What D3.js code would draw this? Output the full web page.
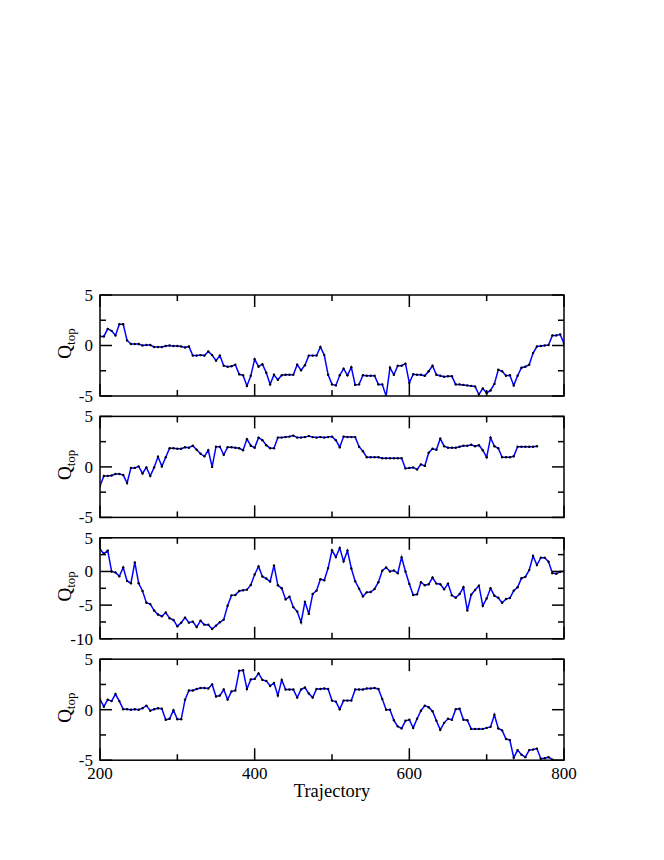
<!DOCTYPE html>
<html><head><meta charset="utf-8">
<script src="https://cdn.jsdelivr.net/npm/d3@7"></script>
<style>body{margin:0;background:#fff}svg{display:block}text{font-family:"Liberation Serif","Times New Roman",serif}</style>
</head><body>
<script>
const trajStart = 200, trajStep = 5;
const q1 = [0.9, 0.9, 1.65, 1.45, 1.0, 2.1, 2.1, 0.5, 0.15, 0.15,
 0.15, 0.0, 0.05, 0.05, -0.15, -0.15, -0.15, -0.05, 0.0, -0.05,
 -0.05, -0.1, -0.2, -0.1, -1.0, -1.0, -0.95, -1.0, -0.6, -0.95,
 -1.5, -1.0, -2.0, -2.1, -2.05, -1.9, -2.85, -2.95, -4.0, -3.0,
 -1.35, -2.1, -1.85, -2.7, -3.85, -2.9, -3.4, -2.95, -2.9, -2.9,
 -2.9, -1.9, -2.45, -1.95, -1.0, -1.0, -1.0, -0.15, -0.95, -2.9,
 -3.85, -3.95, -2.95, -2.3, -2.95, -2.15, -3.9, -3.85, -2.95, -3.0,
 -3.0, -3.0, -3.85, -3.85, -5.0, -2.2, -2.9, -2.0, -2.0, -1.8,
 -3.7, -2.85, -2.9, -2.9, -3.0, -2.55, -2.0, -2.9, -3.0, -3.1,
 -3.05, -3.05, -3.85, -3.85, -3.9, -3.95, -4.0, -4.05, -4.85, -4.25,
 -4.7, -4.45, -3.8, -2.4, -2.55, -3.0, -2.95, -3.95, -3.0, -2.2,
 -2.1, -1.9, -0.75, -0.1, -0.05, 0.0, 0.05, 1.0, 1.0, 1.1,
 0.2];
const q2 = [-1.9, -0.9, -0.9, -0.85, -0.7, -0.7, -0.8, -1.6, -0.1, -0.1,
 0.05, -0.65, -0.05, -0.9, -0.05, 1.0, 0.05, 0.95, 1.85, 1.85,
 1.8, 1.8, 1.95, 1.9, 2.1, 1.7, 1.3, 1.05, 1.65, 0.0,
 2.0, 2.0, 1.2, 1.95, 1.95, 1.9, 1.85, 1.65, 2.75, 2.1,
 1.9, 2.9, 2.65, 2.15, 1.85, 1.85, 2.9, 2.9, 2.95, 3.0,
 3.1, 2.9, 2.9, 2.95, 3.05, 2.95, 2.9, 2.95, 2.9, 2.95,
 3.0, 2.65, 1.95, 3.0, 2.95, 2.95, 2.95, 2.0, 1.55, 0.95,
 0.95, 0.95, 0.95, 0.85, 0.85, 0.85, 0.85, 0.85, 0.85, -0.15,
 -0.1, -0.05, -0.25, 0.25, 0.1, 1.4, 1.8, 1.7, 2.8, 2.05,
 1.9, 1.9, 1.9, 2.0, 2.1, 2.1, 2.2, 2.05, 2.15, 1.65,
 0.95, 2.9, 2.05, 1.85, 0.95, 0.95, 0.95, 1.05, 2.0, 2.0,
 2.0, 2.0, 2.0, 2.05];
const q3 = [3.3, 2.65, 3.1, 0.0, -0.15, -0.7, 0.6, -1.4, -1.75, 1.35,
 -1.75, -2.9, -4.65, -4.85, -5.8, -6.4, -6.65, -6.1, -6.95, -7.2,
 -8.15, -7.6, -6.85, -7.6, -7.45, -8.25, -7.3, -7.9, -7.9, -8.55,
 -8.05, -7.55, -7.15, -5.1, -3.55, -3.5, -2.9, -2.8, -2.7, -2.0,
 -0.45, 0.75, -0.75, -1.05, -1.5, 0.9, -2.05, -2.5, -4.15, -3.75,
 -5.3, -5.95, -7.55, -4.5, -6.3, -3.35, -2.85, -1.15, -1.3, 0.5,
 3.15, 2.15, 3.5, 1.5, 3.1, 0.45, -1.45, -2.55, -3.7, -3.1,
 -3.05, -2.6, -1.6, 0.1, 0.6, 0.0, 0.15, -0.25, 2.1, 0.0,
 -1.85, -3.5, -3.4, -1.6, -2.05, -1.9, -0.9, -1.8, -1.9, -2.65,
 -1.8, -3.55, -3.9, -3.35, -2.35, -5.8, -3.45, -2.75, -2.1, -5.1,
 -4.0, -2.5, -3.6, -3.9, -4.65, -4.1, -3.95, -2.85, -2.35, -1.0,
 -0.8, 0.2, 2.3, 0.95, 2.05, 2.05, 1.45, -0.25, -0.35, -0.05,
 0.05];
const q4 = [1.05, 0.3, 1.0, 0.85, 1.55, 0.85, 0.05, 0.05, 0.0, 0.05,
 0.0, 0.15, 0.4, -0.1, 0.05, 0.15, 0.1, -1.0, -0.9, -0.05,
 -0.95, -0.95, 1.0, 1.9, 1.9, 2.05, 2.15, 2.15, 2.1, 2.5,
 1.3, 1.4, 2.0, 1.0, 1.8, 1.9, 3.85, 3.9, 2.05, 3.0,
 3.05, 3.6, 2.95, 2.85, 2.35, 2.65, 1.4, 2.95, 2.0, 2.0,
 2.0, 1.2, 2.0, 2.2, 1.6, 1.2, 2.05, 2.05, 2.1, 2.05,
 0.9, 0.8, 0.05, 0.9, 0.9, 0.9, 2.0, 2.0, 2.0, 2.1,
 2.1, 2.15, 2.05, 1.05, 0.0, 0.0, -1.05, -1.65, -1.85, -1.1,
 -1.0, -1.8, -0.9, -0.1, 0.4, 0.25, -0.15, -1.1, -2.0, -1.3,
 -0.9, -1.0, 0.05, 0.1, -1.0, -1.05, -1.9, -1.9, -1.9, -1.9,
 -1.8, -1.7, -0.5, -1.85, -2.05, -2.9, -3.0, -4.75, -4.0, -4.45,
 -4.7, -4.0, -3.95, -3.85, -4.85, -4.8, -4.7, -4.95, -5.3, -5.6,
 -5.8];
const series = [q1, q2, q3, q4];
const yDomains = [[-5, 5], [-5, 5], [-10, 5], [-5, 5]];
const yMajor = [[-5, 0, 5], [-5, 0, 5], [-10, -5, 0, 5], [-5, 0, 5]];
const yMinor = [[-2.5, 2.5], [-2.5, 2.5], [-7.5, -2.5, 2.5], [-2.5, 2.5]];
const xMajor = [200, 400, 600, 800];
const xMinor = [300, 500, 700];
const xLabel = "Trajectory";

const W = 664, H = 860;
const L = 100, R = 564, T0 = 295, PH = 101, GAP = 121.4;
const svg = d3.select("body").append("svg").attr("width", W).attr("height", H);
const x = d3.scaleLinear().domain([200, 800]).range([L, R]);

series.forEach((vals, i) => {
  const top = T0 + i * GAP, bot = top + PH;
  const y = d3.scaleLinear().domain(yDomains[i]).range([bot, top]);
  const g = svg.append("g");
  const cid = "clip" + i;
  svg.append("clipPath").attr("id", cid).append("rect")
    .attr("x", L).attr("y", top).attr("width", R - L).attr("height", PH);
  const pts = vals.map((v, k) => [trajStart + k * trajStep, v]);
  const pg = g.append("g").attr("clip-path", `url(#${cid})`);
  pg.append("path").datum(pts)
    .attr("d", d3.line().x(d => x(d[0])).y(d => y(d[1])))
    .attr("fill", "none").attr("stroke", "#0000ff").attr("stroke-width", 1.5);
  pg.selectAll("circle").data(pts).join("circle")
    .attr("cx", d => x(d[0])).attr("cy", d => y(d[1])).attr("r", 1.2).attr("fill", "#000");

  const tk = (x1, y1, x2, y2) => g.append("line").attr("x1", x1).attr("y1", y1).attr("x2", x2).attr("y2", y2)
    .attr("stroke", "#000").attr("stroke-width", 1.5);
  xMajor.forEach(v => { tk(x(v), bot, x(v), bot - 12); tk(x(v), top, x(v), top + 12); });
  xMinor.forEach(v => { tk(x(v), bot, x(v), bot - 6); tk(x(v), top, x(v), top + 6); });
  yMajor[i].forEach(v => { tk(L, y(v), L + 12, y(v)); tk(R, y(v), R - 12, y(v)); });
  yMinor[i].forEach(v => { tk(L, y(v), L + 6, y(v)); tk(R, y(v), R - 6, y(v)); });
  g.append("rect").attr("x", L).attr("y", top).attr("width", R - L).attr("height", PH)
    .attr("fill", "none").attr("stroke", "#000").attr("stroke-width", 1.5);

  yMajor[i].forEach(v => {
    g.append("text").attr("x", 93).attr("y", y(v)).attr("dy", "0.35em")
      .attr("text-anchor", "end").attr("font-size", 17)
      .text(v);
  });
  const cy = (top + bot) / 2 - 2;
  const t = g.append("text").attr("transform", `translate(71,${cy}) rotate(-90)`)
    .attr("text-anchor", "middle").attr("font-size", 19);
  t.append("tspan").text("Q");
  t.append("tspan").attr("font-size", 13).attr("dy", 4).text("top");

  if (i === 3) {
    xMajor.forEach(v => {
      g.append("text").attr("x", x(v)).attr("y", bot + 19).attr("text-anchor", "middle")
        .attr("font-size", 17).text(v);
    });
    g.append("text").attr("x", (L + R) / 2).attr("y", bot + 37).attr("text-anchor", "middle")
      .attr("font-size", 18.5).text(xLabel);
  }
});
</script>
</body></html>
